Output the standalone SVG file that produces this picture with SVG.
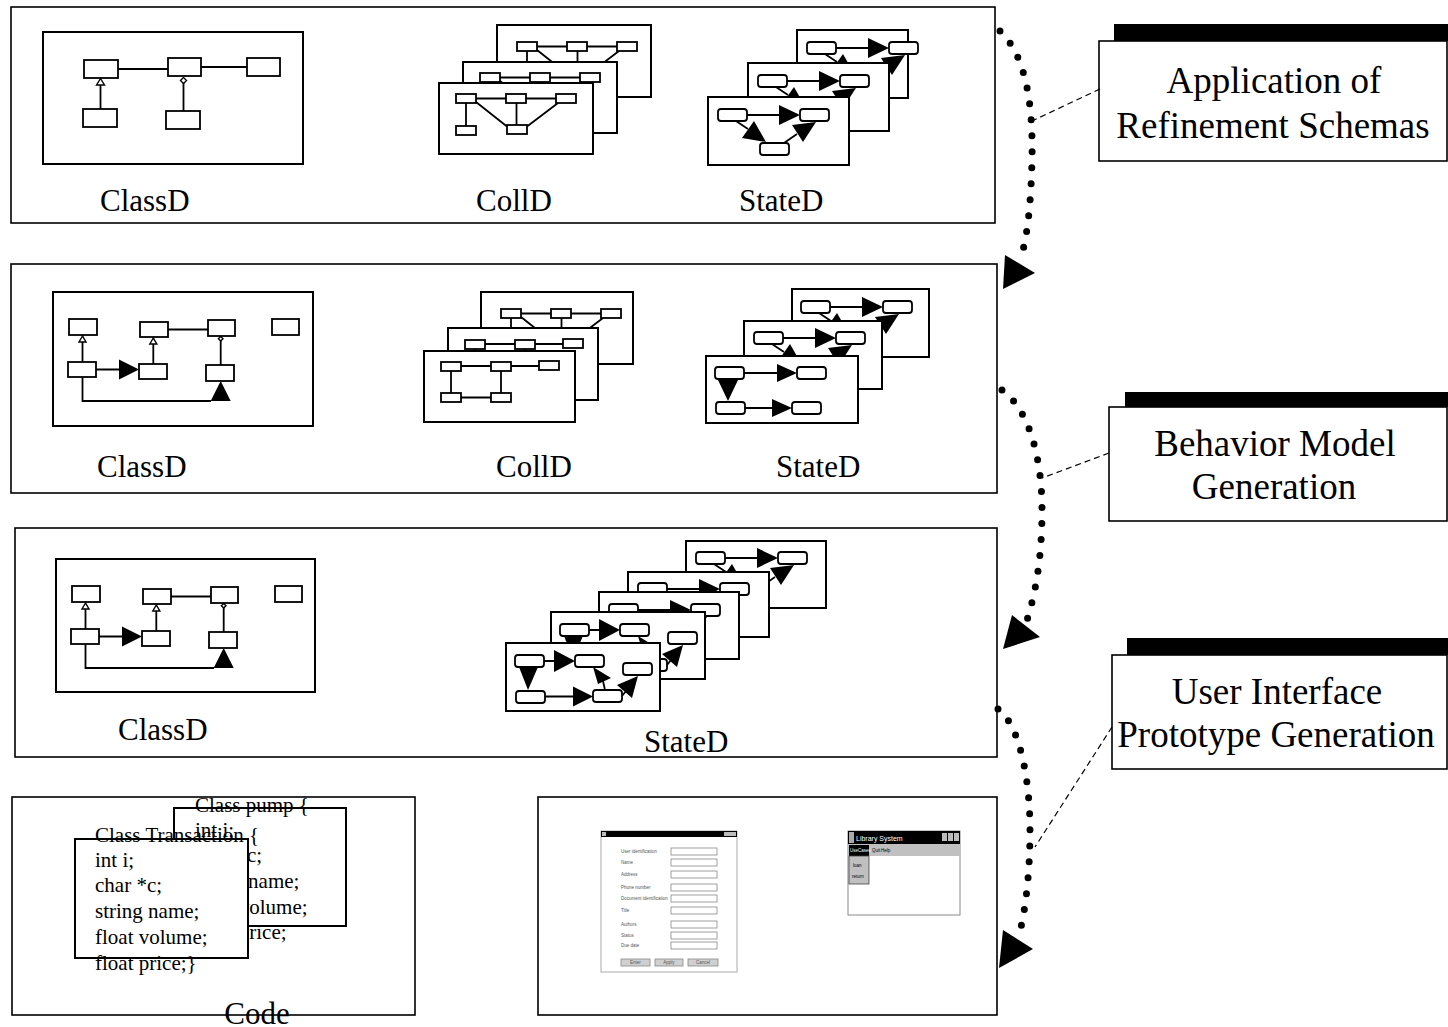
<svg xmlns="http://www.w3.org/2000/svg" xmlns:xlink="http://www.w3.org/1999/xlink" width="1448" height="1027" viewBox="0 0 1448 1027">
<style>
.outer{fill:#fff;stroke:#000;stroke-width:1.6}
.box{fill:#fff;stroke:#000;stroke-width:2}
.sm{fill:#fff;stroke:#000;stroke-width:1.8}
.ln{fill:none;stroke:#000;stroke-width:1.8}
.ah{fill:#000;stroke:none}
.oh{fill:#fff;stroke:#000;stroke-width:1.4}
.lbl{font-family:"Liberation Serif","Times New Roman",serif;font-size:31px;fill:#000}
.big{font-family:"Liberation Serif","Times New Roman",serif;font-size:37px;fill:#000;text-anchor:middle}
.code{font-family:"Liberation Serif","Times New Roman",serif;font-size:21px;fill:#000}
.dot{fill:none;stroke:#000;stroke-width:7;stroke-linecap:round;stroke-dasharray:0 16}
.dash{fill:none;stroke:#000;stroke-width:1.2;stroke-dasharray:6 4}
.ui{font-family:"Liberation Sans",Arial,sans-serif;font-size:4.5px;fill:#555}
.fld{fill:#fff;stroke:#888;stroke-width:0.8}
.btn{fill:#d0d0d0;stroke:#888;stroke-width:0.8}
</style>
<defs>
<g id="collA">
<path class="ln" d="M37,15.5 H67 M87,15.5 H117 M27,20 V43 M37,19 L68,43.5 M77.5,20 V42 M119,20 L88,43.5"/>
<rect class="sm" x="17" y="11" width="20" height="9"/>
<rect class="sm" x="67" y="11" width="20" height="9"/>
<rect class="sm" x="117" y="11" width="20" height="9"/>
<rect class="sm" x="17" y="43" width="20" height="9"/>
<rect class="sm" x="68" y="42" width="20" height="9"/>
</g>
<g id="collB">
<path class="ln" d="M37,15 H67 M87,15 H115 M27,20 V42 M77,20 V42 M37,46.5 H67"/>
<rect class="sm" x="17" y="11" width="20" height="9"/>
<rect class="sm" x="67" y="11" width="20" height="9"/>
<rect class="sm" x="115" y="10" width="20" height="9"/>
<rect class="sm" x="17" y="42" width="20" height="9"/>
<rect class="sm" x="67" y="42" width="20" height="9"/>
</g>
<g id="stA">
<path class="ln" d="M39,18 H72 M28,24 L40,32 M76,46 L89,37"/>
<rect class="sm" x="10" y="12" width="29" height="12" rx="3"/>
<rect class="sm" x="92" y="12" width="29" height="12" rx="3"/>
<rect class="sm" x="52" y="46" width="29" height="12" rx="3"/>
<polygon class="ah" points="71,8 92,18 71,28"/>
<polygon class="ah" points="34,41 46,24 58,45"/>
<polygon class="ah" points="95,45 84,28 108,25"/>
</g>
<g id="stB">
<path class="ln" d="M38,17 H72 M39,52 H66"/>
<rect class="sm" x="9" y="11" width="29" height="12" rx="3"/>
<rect class="sm" x="91" y="11" width="29" height="12" rx="3"/>
<rect class="sm" x="10" y="46" width="29" height="12" rx="3"/>
<rect class="sm" x="86" y="46" width="29" height="12" rx="3"/>
<polygon class="ah" points="71,8 91,17 71,26"/>
<polygon class="ah" points="12,24 32,24 22,45"/>
<polygon class="ah" points="66,43 86,52 66,61"/>
</g>
<g id="stC">
<path class="ln" d="M38,18 H49 M39,53.5 H68 M99,47 L97,38 M116,53 L120,48"/>
<rect class="sm" x="9" y="12" width="29" height="12" rx="3"/>
<rect class="sm" x="69" y="12" width="29" height="12" rx="3"/>
<rect class="sm" x="117" y="20" width="29" height="12" rx="3"/>
<rect class="sm" x="10" y="48" width="29" height="12" rx="3"/>
<rect class="sm" x="87" y="47" width="29" height="12" rx="3"/>
<polygon class="ah" points="48,7 69,18 48,29"/>
<polygon class="ah" points="13,24 32,24 22,47"/>
<polygon class="ah" points="67,43.5 87,53.5 67,63.5"/>
<polygon class="ah" points="87,24 105,35 92,41"/>
<polygon class="ah" points="126,55 111,42 132,33"/>
</g>
<g id="classB">
<path class="ln" d="M168,329.5 H208 M82.5,362 V342 M153.3,364 V344 M220.7,365 V341 M96,369.5 H119 M82.5,377 V401 H211"/>
<rect class="sm" x="69" y="319" width="28" height="16"/>
<rect class="sm" x="140" y="322" width="28" height="15"/>
<rect class="sm" x="208" y="320" width="27" height="16"/>
<rect class="sm" x="272" y="319" width="27" height="16"/>
<rect class="sm" x="68" y="362" width="28" height="15"/>
<rect class="sm" x="139" y="364" width="28" height="15"/>
<rect class="sm" x="206" y="365" width="28" height="16"/>
<polygon class="oh" points="82.5,336 79,342 86,342"/>
<polygon class="oh" points="153.3,338 149.8,344 156.8,344"/>
<polygon class="oh" points="220.7,336.5 223,338.8 220.7,341 218.4,338.8"/>
<polygon class="ah" points="119,359.5 139,369.5 119,379.5"/>
<polygon class="ah" points="210.7,401 230.7,401 220.7,381"/>
</g>
</defs>

<!-- Row 1 -->
<g id="row1">
<rect class="outer" x="11" y="7" width="984" height="216"/>
<g id="classD1">
<rect class="box" x="43" y="32" width="260" height="132"/>
<path class="ln" d="M118,69 H168 M201,67 H247 M100.5,109 V85 M183.5,111 V83"/>
<rect class="sm" x="84" y="60" width="34" height="18"/>
<rect class="sm" x="168" y="58" width="33" height="18"/>
<rect class="sm" x="247" y="58" width="33" height="18"/>
<rect class="sm" x="83" y="109" width="34" height="18"/>
<rect class="sm" x="166" y="111" width="34" height="18"/>
<polygon class="oh" points="100.5,78.5 96.5,85 104.5,85"/>
<polygon class="oh" points="183.5,77.5 186.5,80.5 183.5,83.5 180.5,80.5"/>
<text class="lbl" x="100" y="211">ClassD</text>
</g>
<g id="collD1">
<rect class="box" x="497" y="25" width="154" height="72"/>
<use xlink:href="#collA" transform="translate(500,31)"/>
<rect class="box" x="463" y="62" width="154" height="71"/>
<use xlink:href="#collA" transform="translate(463,62)"/>
<rect class="box" x="439" y="83" width="154" height="71"/>
<use xlink:href="#collA" transform="translate(439,83)"/>
<text class="lbl" x="476" y="211">CollD</text>
</g>
<g id="stateD1">
<rect class="box" x="797" y="30" width="111" height="68"/>
<use xlink:href="#stA" transform="translate(797,30)"/>
<rect class="box" x="748" y="63" width="141" height="68"/>
<use xlink:href="#stA" transform="translate(748,63)"/>
<rect class="box" x="708" y="97" width="141" height="68"/>
<use xlink:href="#stA" transform="translate(708,97)"/>
<text class="lbl" x="739" y="211">StateD</text>
</g>
</g>

<!-- Row 2 -->
<g id="row2">
<rect class="outer" x="11" y="264" width="986" height="229"/>
<g id="classD2">
<rect class="box" x="53" y="292" width="260" height="134"/>
<use xlink:href="#classB"/>
<text class="lbl" x="97" y="477">ClassD</text>
</g>
<g id="collD2">
<rect class="box" x="481" y="292" width="152" height="72"/>
<use xlink:href="#collA" transform="translate(484,298)"/>
<rect class="box" x="448" y="328" width="150" height="72"/>
<use xlink:href="#collB" transform="translate(448,329)"/>
<rect class="box" x="424" y="351" width="151" height="71"/>
<use xlink:href="#collB" transform="translate(424,351)"/>
<text class="lbl" x="496" y="477">CollD</text>
</g>
<g id="stateD2">
<rect class="box" x="792" y="289" width="137" height="68"/>
<use xlink:href="#stA" transform="translate(791,289)"/>
<rect class="box" x="744" y="321" width="138" height="68"/>
<use xlink:href="#stA" transform="translate(744,320)"/>
<rect class="box" x="706" y="356" width="152" height="67"/>
<use xlink:href="#stB" transform="translate(706,356)"/>
<text class="lbl" x="776" y="477">StateD</text>
</g>
</g>

<!-- Row 3 -->
<g id="row3">
<rect class="outer" x="15" y="528" width="982" height="229"/>
<g id="classD3">
<rect class="box" x="56" y="559" width="259" height="133"/>
<use xlink:href="#classB" transform="translate(3,267)"/>
<text class="lbl" x="118" y="740">ClassD</text>
</g>
<g id="stateD3">
<rect class="box" x="686" y="541" width="140" height="67"/>
<use xlink:href="#stA" transform="translate(686,540)"/>
<rect class="box" x="628" y="572" width="141" height="65"/>
<use xlink:href="#stA" transform="translate(628,571)"/>
<rect class="box" x="599" y="592" width="140" height="67"/>
<use xlink:href="#stA" transform="translate(599,592)"/>
<rect class="box" x="551" y="612" width="154" height="67"/>
<use xlink:href="#stC" transform="translate(551,612)"/>
<rect class="box" x="506" y="643" width="154" height="68"/>
<use xlink:href="#stC" transform="translate(506,643)"/>
<text class="lbl" x="644" y="752">StateD</text>
</g>
</g>

<!-- Code -->
<g id="code">
<rect class="outer" x="12" y="797" width="403" height="218"/>
<rect class="box" x="174" y="808" width="172" height="118"/>
<text class="code" x="195" y="812">Class pump {</text>
<text class="code" x="195" y="837">int i;</text>
<text class="code" x="195" y="862">char *c;</text>
<text class="code" x="195" y="888">string name;</text>
<text class="code" x="195" y="914">float volume;</text>
<text class="code" x="195" y="939">float price;</text>
<rect class="box" x="75" y="839" width="173" height="119"/>
<text class="code" x="95" y="842">Class Transaction {</text>
<text class="code" x="95" y="867">int i;</text>
<text class="code" x="95" y="892">char *c;</text>
<text class="code" x="95" y="918">string name;</text>
<text class="code" x="95" y="944">float volume;</text>
<text class="code" x="95" y="970">float price;}</text>
<text class="lbl" x="257" y="1024" text-anchor="middle">Code</text>
</g>

<!-- UI prototype -->
<g id="ui">
<rect class="outer" x="538" y="797" width="459" height="218"/>
<g id="ui-loan">
<rect x="601" y="831" width="136" height="141" fill="#fff" stroke="#aaa" stroke-width="1"/>
<rect x="601" y="831" width="136" height="6" fill="#000"/>
<rect x="602" y="832" width="4" height="4" fill="#bbb"/>
<rect x="724" y="832" width="12" height="4" fill="#bbb"/>
<text class="ui" x="621" y="853">User identification</text>
<text class="ui" x="621" y="864">Name</text>
<text class="ui" x="621" y="875.5">Address</text>
<text class="ui" x="621" y="889">Phone number</text>
<text class="ui" x="621" y="900">Document identification</text>
<text class="ui" x="621" y="911.5">Title</text>
<text class="ui" x="621" y="925.5">Authors</text>
<text class="ui" x="621" y="936.5">Status</text>
<text class="ui" x="621" y="947">Due date</text>
<rect class="fld" x="671" y="848" width="46" height="7"/>
<rect class="fld" x="671" y="859" width="46" height="7"/>
<rect class="fld" x="671" y="871" width="46" height="7"/>
<rect class="fld" x="671" y="884" width="46" height="7"/>
<rect class="fld" x="671" y="895" width="46" height="7"/>
<rect class="fld" x="671" y="907" width="46" height="7"/>
<rect class="fld" x="671" y="921" width="46" height="7"/>
<rect class="fld" x="671" y="932" width="46" height="7"/>
<rect class="fld" x="671" y="942" width="46" height="7"/>
<rect class="btn" x="621" y="959" width="29" height="7"/>
<rect class="btn" x="655" y="959" width="28" height="7"/>
<rect class="btn" x="688" y="959" width="30" height="7"/>
<text class="ui" x="635.5" y="964" text-anchor="middle">Enter</text>
<text class="ui" x="669" y="964" text-anchor="middle">Apply</text>
<text class="ui" x="703" y="964" text-anchor="middle">Cancel</text>
</g>
<g id="ui-library">
<rect x="848" y="831" width="112" height="84" fill="#fff" stroke="#888" stroke-width="1"/>
<rect x="848" y="831" width="112" height="13" fill="#000"/>
<rect x="849" y="832" width="5" height="11" fill="#aaa"/>
<text x="856" y="841" font-family="Liberation Sans, Arial, sans-serif" font-size="7" fill="#fff">Library System</text>
<rect x="942" y="833" width="5" height="8" fill="#bbb"/>
<rect x="948" y="833" width="5" height="8" fill="#bbb"/>
<rect x="954" y="833" width="5" height="8" fill="#bbb"/>
<rect x="848" y="844" width="112" height="12" fill="#c0c0c0"/>
<rect x="849" y="845" width="20" height="11" fill="#000"/>
<text x="850" y="852" font-family="Liberation Sans, Arial, sans-serif" font-size="4.5" fill="#fff">UseCases</text>
<text x="872" y="852" font-family="Liberation Sans, Arial, sans-serif" font-size="4.5" fill="#000">Quit</text>
<text x="881" y="852" font-family="Liberation Sans, Arial, sans-serif" font-size="4.5" fill="#000">Help</text>
<rect x="849" y="856" width="20" height="28" fill="#c0c0c0" stroke="#444" stroke-width="0.8"/>
<text x="853" y="867" font-family="Liberation Sans, Arial, sans-serif" font-size="4.5" fill="#000">loan</text>
<text x="852" y="878" font-family="Liberation Sans, Arial, sans-serif" font-size="4.5" fill="#000">return</text>
</g>
</g>

<!-- Right-side labels -->
<g id="label1">
<rect x="1114" y="24" width="334" height="17" fill="#000"/>
<rect class="outer" x="1099" y="41" width="348" height="120"/>
<text class="big" x="1274" y="93">Application of</text>
<text class="big" x="1273" y="138">Refinement Schemas</text>
</g>
<g id="label2">
<rect x="1125" y="392" width="323" height="15" fill="#000"/>
<rect class="outer" x="1109" y="407" width="338" height="114"/>
<text class="big" x="1275" y="456">Behavior Model</text>
<text class="big" x="1274" y="499">Generation</text>
</g>
<g id="label3">
<rect x="1127" y="638" width="321" height="17" fill="#000"/>
<rect class="outer" x="1112" y="655" width="335" height="114"/>
<text class="big" x="1277" y="704">User Interface</text>
<text class="big" x="1276" y="747">Prototype Generation</text>
</g>

<!-- Connectors -->
<g id="connectors">
<path class="dot" d="M1000,31 C1028,58 1033,110 1032,160 C1031,200 1028,230 1023,250"/>
<polygon class="ah" points="1005,255 1035,273 1003,289"/>
<path class="dot" d="M1002,390 C1030,410 1042,460 1042,510 C1042,560 1035,595 1027,620"/>
<polygon class="ah" points="1012,615 1040,637 1003,649"/>
<path class="dot" d="M998,709 C1020,725 1030,780 1030,830 C1030,870 1026,905 1021,927"/>
<polygon class="ah" points="1003,930 1033,949 999,968"/>
<line class="dash" x1="1100" y1="89" x2="1032" y2="121"/>
<line class="dash" x1="1109" y1="453" x2="1042" y2="478"/>
<line class="dash" x1="1112" y1="727" x2="1035" y2="847"/>
</g>
</svg>
